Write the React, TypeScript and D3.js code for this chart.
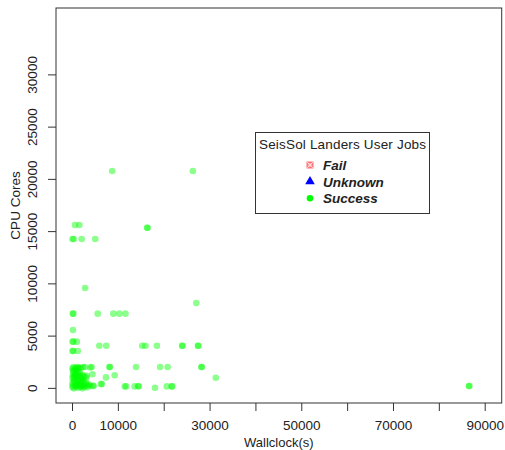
import React from "react";
import * as d3 from "d3";

// Job outcomes: wallclock seconds and CPU cores per job
const successWallclock = [
  8650, 26250, 550, 1490, 0, 250, 2000, 4950, 16300, 16350, 2750, 27000,
  40, 200, 5500, 8900, 10200, 11550, 100, 0, 200, 950, 0, 150, 1150,
  5850, 7350, 15200, 15900, 18400, 23900, 24000, 27350, 27450, 13850, 19100, 20750,
  28100, 28200, 8050, 8150, 31250, 9200, 7300, 11400, 11700, 14300, 14450, 13550,
  17990, 20550, 21600, 21750, 86450, 86550,
  0, 200, 600, 1000, 1400, 1800, 2300, 2750, 3900, 4150,
  4350, 3100, 2200, 1600, 900, 200,
  0, 500, 1100, 1700, 2400, 3000,
  0, 400, 900, 1400, 2000, 2600, 3200, 3800, 4450, 4600, 6200, 6400,
  0, 300, 700, 1200, 1700, 2200, 2700, 3300,
  100, 450, 800, 1250, 1550, 1950, 2500, 100, 650, 1050, 1300, 1850,
  2100, 2900, 250, 750, 1150, 1550, 2050, 2450, 50, 600, 1500, 2300,
  350, 850, 1800, 3600, 1250, 500,
];
const successCores = [
  20800, 20800, 15640, 15640, 14300, 14300, 14300, 14300, 15370, 15370, 9600, 8170,
  7150, 7150, 7150, 7150, 7150, 7150, 5580, 4470, 4470, 4470, 3570, 3570, 3570,
  4080, 4080, 4080, 4080, 4080, 4080, 4080, 4080, 4080, 2050, 2050, 2050,
  2050, 2050, 2050, 2050, 1020, 1250, 1050, 190, 190, 200, 200, 190,
  60, 190, 190, 190, 220, 220,
  1900, 2050, 1950, 2050, 2000, 1950, 2050, 2050, 2000, 2050,
  1350, 1200, 1300, 1500, 1400, 1500,
  1000, 1100, 900, 1000, 800, 1000,
  500, 600, 400, 550, 300, 450, 300, 250, 230, 250, 410, 420,
  100, 0, 150, 50, 120, 0, 150, 100,
  1700, 1650, 1750, 1600, 1200, 1100, 1150, 1250, 1300, 1200, 800, 700,
  650, 550, 750, 600, 250, 700, 350, 200, 300, 250, 400, 300,
  1000, 1800, 250, 400, 1950, 1200,
];
const failWallclock: number[] = [];
const failCores: number[] = [];
const unknownWallclock: number[] = [];
const unknownCores: number[] = [];

const xTicks = [0, 10000, 20000, 30000, 40000, 50000, 60000, 70000, 80000, 90000];
const xTickLabels = [0, 10000, 30000, 50000, 70000, 90000];
const yTicks = [0, 5000, 10000, 15000, 20000, 25000, 30000];

const legendTitle = "SeisSol Landers User Jobs";
const legendLabels = ["Fail", "Unknown", "Success"];

const W = 505;
const H = 450;
const left = 56;
const right = 501.7;
const top = 8;
const bottom = 403;

export default function App() {
  const x = d3.scaleLinear().domain([-3600, 93600]).range([left, right]);
  const y = d3.scaleLinear().domain([-1400, 36400]).range([bottom, top]);
  const font = "'Liberation Sans', Arial, sans-serif";
  const textColor = "#222";

  const tri = d3.symbol().type(d3.symbolTriangle).size(40)();

  return (
    <svg
      width={W}
      height={H}
      style={{ position: "absolute", left: 0, top: 0, background: "#fff" }}
      fontFamily={font}
    >
      <rect x={0} y={0} width={W} height={H} fill="#fff" />
      {/* points */}
      <g>
        {failWallclock.map((v, i) => (
          <rect key={"f" + i} x={x(v) - 3} y={y(failCores[i]) - 3} width={6} height={6}
            fill="none" stroke="rgba(255,0,0,0.5)" />
        ))}
        {unknownWallclock.map((v, i) => (
          <path key={"u" + i} d={tri!} transform={`translate(${x(v)},${y(unknownCores[i])})`}
            fill="rgba(0,0,255,0.5)" />
        ))}
        {successWallclock.map((v, i) => (
          <circle key={"s" + i} cx={x(v)} cy={y(successCores[i])} r={3.3}
            fill="rgb(0,255,0)" fillOpacity={0.45} />
        ))}
      </g>
      {/* frame */}
      <rect x={left} y={top} width={right - left} height={bottom - top}
        fill="none" stroke="#333" strokeWidth={1} />
      {/* x axis */}
      <g>
        {xTicks.map((t) => (
          <line key={t} x1={x(t)} x2={x(t)} y1={bottom} y2={bottom + 8} stroke="#333" />
        ))}
        {xTickLabels.map((t) => (
          <text key={t} x={x(t)} y={430} textAnchor="middle" fontSize={13.5} fill={textColor}>
            {t}
          </text>
        ))}
        <text x={(left + right) / 2} y={447} textAnchor="middle" fontSize={13} fill={textColor}>
          Wallclock(s)
        </text>
      </g>
      {/* y axis */}
      <g>
        {yTicks.map((t) => (
          <line key={t} x1={left - 8} x2={left} y1={y(t)} y2={y(t)} stroke="#333" />
        ))}
        {yTicks.map((t) => (
          <text key={t} transform={`translate(37,${y(t)}) rotate(-90)`} textAnchor="middle"
            fontSize={13.5} fill={textColor}>
            {t}
          </text>
        ))}
        <text transform={`translate(20,${(top + bottom) / 2}) rotate(-90)`} textAnchor="middle"
          fontSize={13.5} fill={textColor}>
          CPU Cores
        </text>
      </g>
      {/* legend */}
      <g>
        <rect x={255.5} y={132.5} width={174} height={81} fill="#fff" stroke="#333" />
        <text x={342.5} y={149} textAnchor="middle" fontSize={13.5} fill={textColor}
          textLength={167} lengthAdjust="spacing">
          {legendTitle}
        </text>
        <g transform="translate(310,165)">
          <rect x={-3} y={-3} width={6} height={6} fill="rgba(255,0,0,0.35)" stroke="rgba(255,0,0,0.7)" strokeWidth={0.8} />
          <path d="M-3,-3L3,3M3,-3L-3,3" stroke="rgba(255,255,255,0.8)" strokeWidth={0.8} />
        </g>
        <path d={tri!} transform="translate(310,181.5)" fill="blue" />
        <circle cx={310} cy={198.3} r={3.3} fill="rgb(0,255,0)" />
        {legendLabels.map((l, i) => (
          <text key={l} x={323} y={170 + i * 16.7} fontSize={13.5} fontWeight="bold"
            fontStyle="italic" fill={textColor}>
            {l}
          </text>
        ))}
      </g>
    </svg>
  );
}
